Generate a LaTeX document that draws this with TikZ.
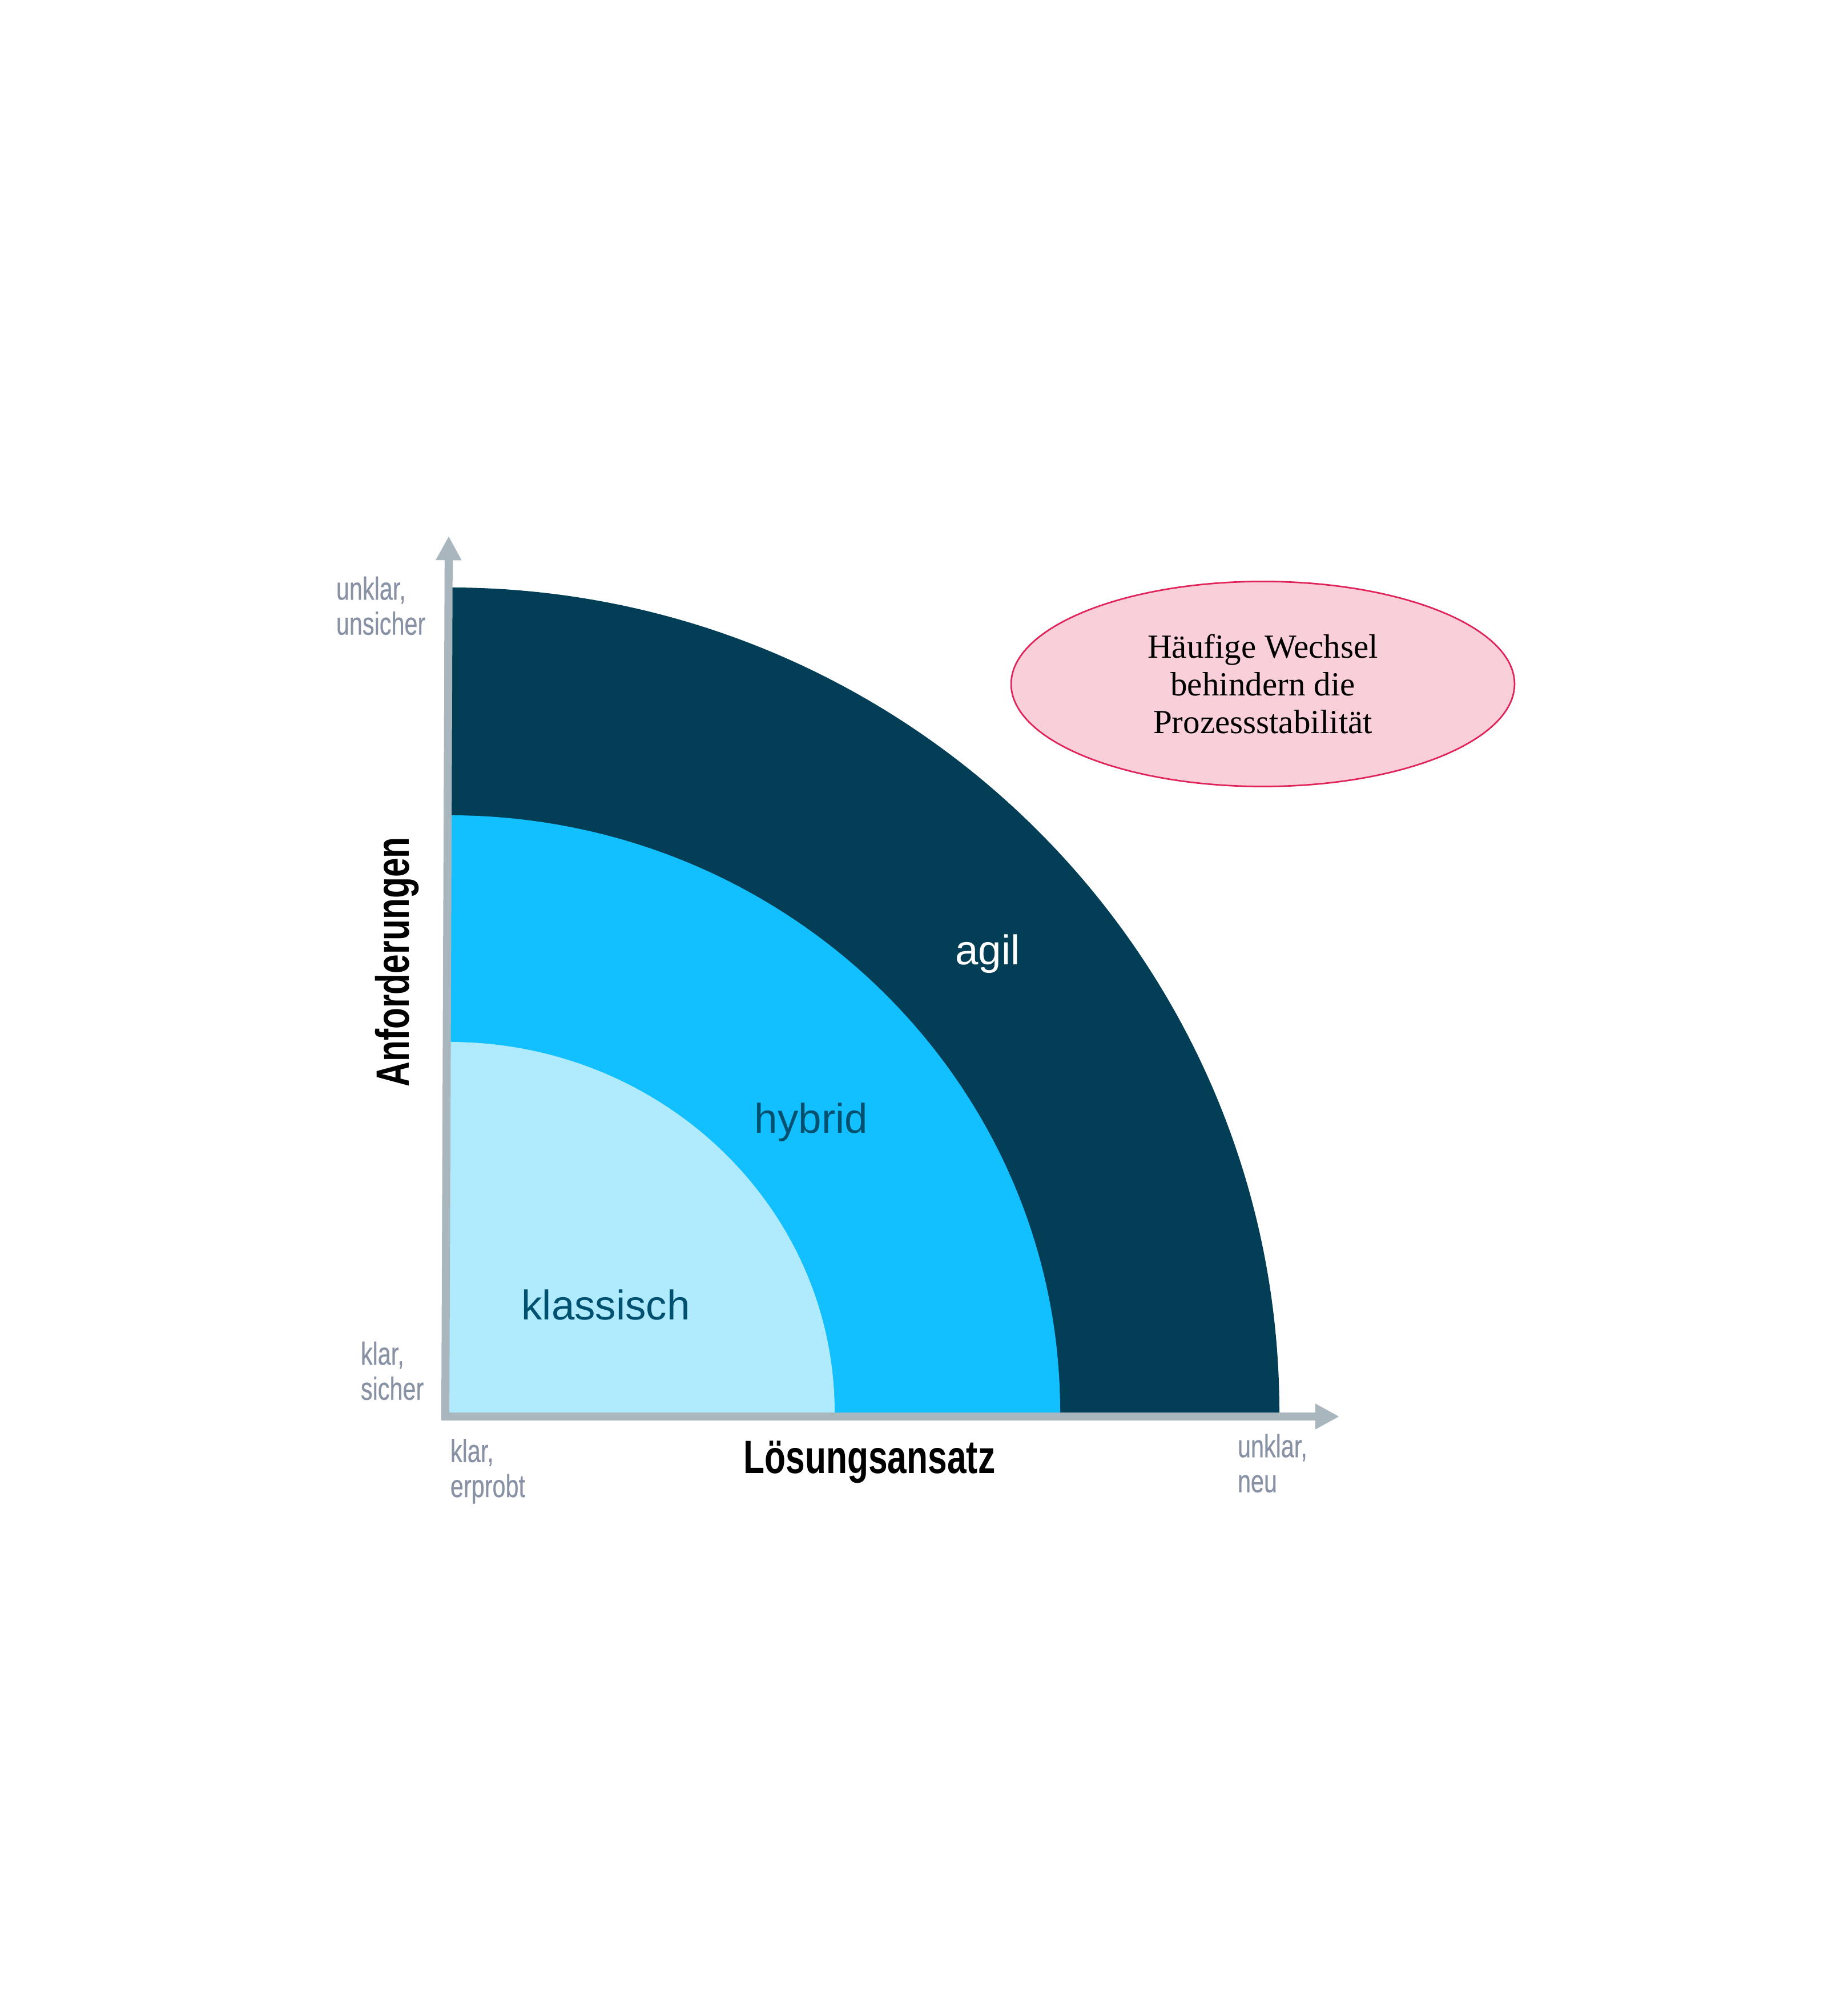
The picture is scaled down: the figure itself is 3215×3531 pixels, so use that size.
\documentclass[tikz,border=0pt]{standalone}
\usepackage{fontspec}
\setmainfont{Liberation Serif}
\setsansfont{Liberation Sans}
\newfontfamily\headfont[FakeStretch=0.74]{Liberation Sans}
\newfontfamily\labelfont[FakeStretch=0.74,FakeBold=0.4]{Liberation Sans}
\usepackage{tikz}
\usetikzlibrary{positioning}
\usetikzlibrary{arrows.meta}
\usetikzlibrary{shapes.geometric}
\definecolor{agilblue}{HTML}{023F57}
\definecolor{hybridblue}{HTML}{12C0FF}
\definecolor{klassblue}{HTML}{AFEAFD}
\definecolor{axisgray}{HTML}{A9B6BE}
\definecolor{labelgray}{HTML}{8992A5}
\definecolor{textteal}{HTML}{00506F}
\definecolor{notefill}{HTML}{F9CFDA}
\definecolor{noteline}{HTML}{E0245A}
\tikzset{
  axis line/.style={draw=axisgray,line width=3.1pt,-{Triangle[length=9.3pt,width=9.3pt]}},
  zone label/.style={font=\sffamily\fontsize{16}{19}\selectfont},
  axis title/.style={font=\headfont\bfseries\fontsize{18}{21}\selectfont,text=black},
  end label/.style={font=\labelfont\fontsize{12.3}{13.5}\selectfont,text=labelgray,align=left,inner sep=0pt},
}

\begin{document}
\begin{tikzpicture}[x=0.22pt,y=0.22pt]
    \useasboundingbox (0,0) rectangle (3215,3531);
    \coordinate (o) at (787,1057);

    % the three zones, outer one first
    \fill[agilblue] (o) -- ++(1454,0) arc[start angle=0,end angle=90,x radius=1454,y radius=1445] -- cycle;
    \fill[hybridblue] (o) -- ++(1070,0) arc[start angle=0,end angle=90,x radius=1070,y radius=1046] -- cycle;
    \fill[klassblue] (o) -- ++(675,0) arc[start angle=0,end angle=90,x radius=675,y radius=649] -- cycle;

    % axes
    \coordinate (xstart) at (773,1050);
    \coordinate (xend) at (2346,1050);
    \coordinate (ystart) at (780,1043);
    \coordinate (yend) at (786,2592);
    \draw[axis line] (xstart) -- (xend);
    \draw[axis line] (ystart) -- (yend);

    \node[zone label,text=white] (agil) at (1730,1860) {agil};
    \node[zone label,text=textteal] (hybrid) at (1421,1565) {hybrid};
    \node[zone label,text=textteal] (klassisch) at (1061,1245) {klassisch};

    \node[axis title,rotate=90] (anf) at (696,1846) {Anforderungen};
    \node[axis title] (loes) at (1523,970) {Lösungsansatz};

    \node[end label,anchor=west] (yhigh) at (588,2470) {unklar,\\unsicher};
    \node[end label,anchor=west] (ylow) at (631,1130) {klar,\\sicher};
    \node[end label,anchor=west] (xlow) at (788,954) {klar,\\erprobt};
    \node[end label,anchor=west] (xhigh) at (2167,968) {unklar,\\neu};

    \node[ellipse,draw=noteline,fill=notefill,line width=0.6pt,minimum width=194pt,minimum height=79pt,
          align=center,font=\fontsize{13}{14.5}\selectfont] (note) at (2212,2333)
          {Häufige Wechsel\\behindern die\\Prozessstabilität};
\end{tikzpicture}
\end{document}
